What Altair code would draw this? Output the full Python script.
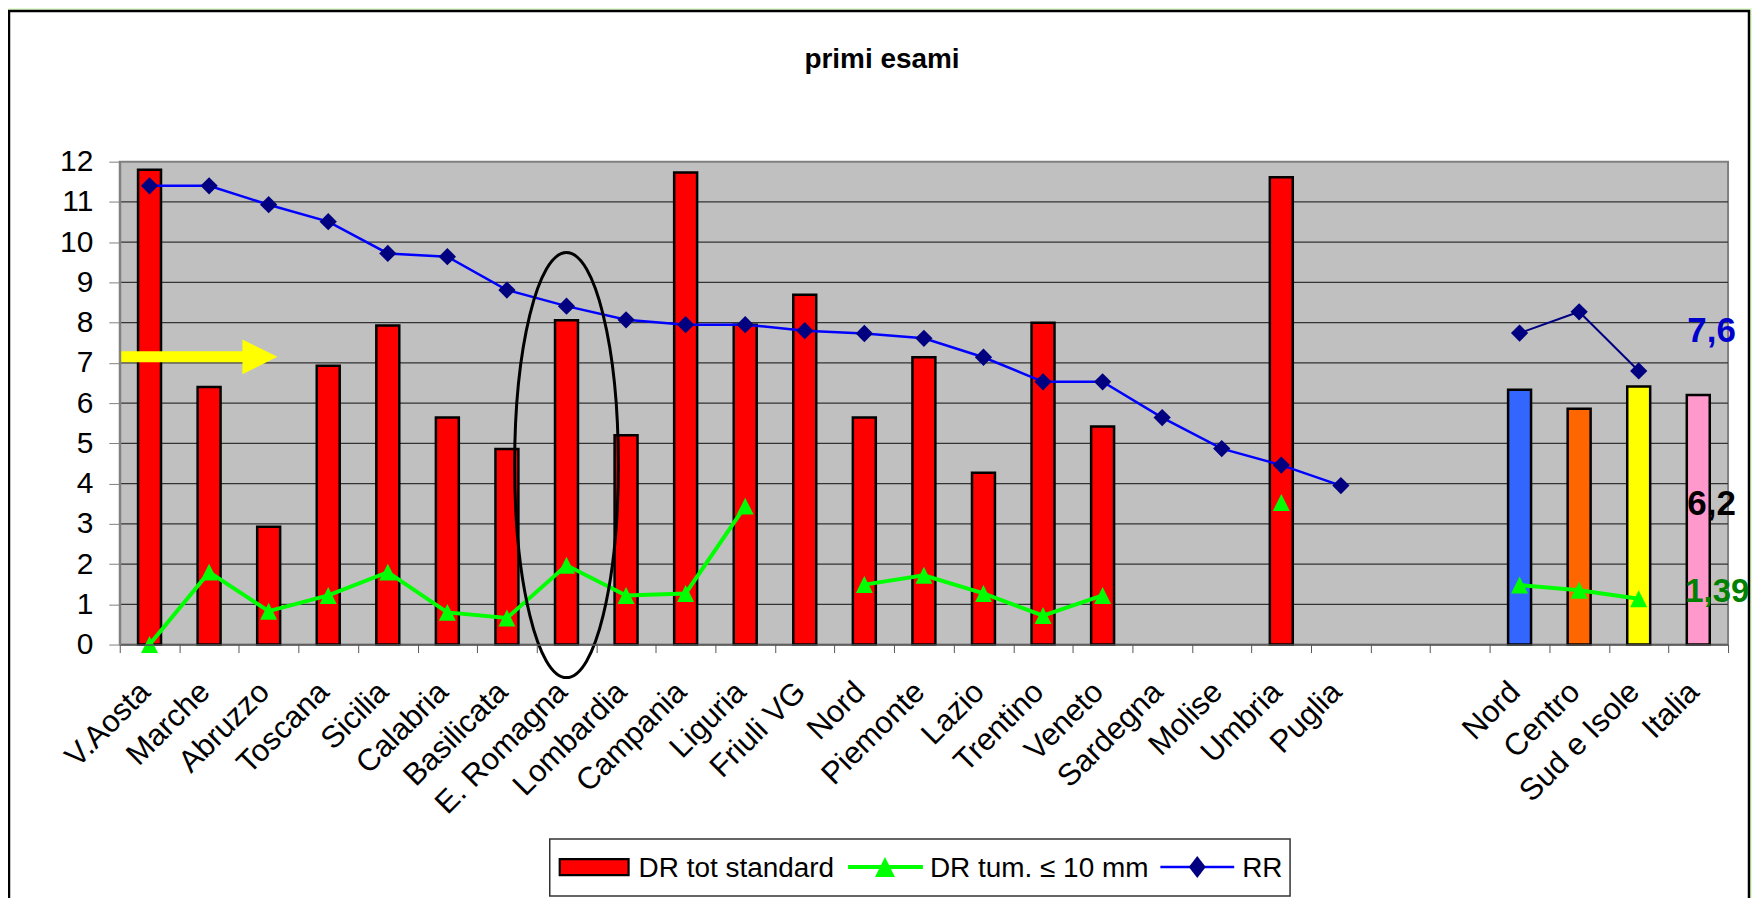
import altair as alt
import pandas as pd

# ---------------- data ----------------
regions = ["V.Aosta", "Marche", "Abruzzo", "Toscana", "Sicilia", "Calabria", "Basilicata",
           "E. Romagna", "Lombardia", "Campania", "Liguria", "Friuli VG", "Nord", "Piemonte",
           "Lazio", "Trentino", "Veneto", "Sardegna", "Molise", "Umbria", "Puglia"]
dr_tot = [11.8, 6.4, 2.93, 6.93, 7.93, 5.64, 4.86, 8.06, 5.2, 11.73, 7.95, 8.69, 5.64, 7.14,
          4.27, 8.0, 5.42, None, None, 11.61, None]
dr_tum = [0.0, 1.8, 0.83, 1.22, 1.8, 0.8, 0.66, 1.97, 1.22, 1.27, 3.44, None, 1.49, 1.72,
          1.27, 0.72, 1.22, None, None, 3.53, None]
rr = [11.4, 11.4, 10.93, 10.51, 9.72, 9.64, 8.81, 8.41, 8.07, 7.95, 7.95, 7.8, 7.73, 7.61,
      7.14, 6.53, 6.53, 5.64, 4.87, 4.46, 3.95]

gap = [" ", "  "]
macro = ["Nord ", "Centro", "Sud e Isole", "Italia"]
macro_dr_tot = [6.33, 5.86, 6.41, 6.2]
macro_dr_tum = [1.48, 1.35, 1.14, None]
macro_rr = [7.74, 8.27, 6.8, None]
macro_colors = ["#3366ff", "#ff6600", "#ffff00", "#ff99cc"]
region_color = "#ff0000"

y_ticks = list(range(0, 13))
legend_labels = ["DR tot standard", "DR tum. \u2264 10 mm", "RR"]
italia_labels = ["7,6", "6,2", "1,39"]
title_text = "primi esami"

slots = regions + gap + macro

# ---------------- helpers ----------------
W, H = 1612, 484
FONT = "Liberation Sans"
ONE = alt.Data(values=[{"k": 1}])

def runs(cats, vals):
    rows, seg, open_ = [], 0, False
    for c, v in zip(cats, vals):
        if v is None:
            if open_:
                seg += 1
            open_ = False
            continue
        rows.append({"cat": c, "v": v, "seg": seg})
        open_ = True
    return pd.DataFrame(rows)

bars_df = pd.DataFrame(
    [{"cat": c, "v": v, "col": region_color} for c, v in zip(regions, dr_tot) if v is not None]
    + [{"cat": c, "v": v, "col": k} for c, v, k in zip(macro, macro_dr_tot, macro_colors)]
)
tum_df = runs(slots, dr_tum + [None] * len(gap) + macro_dr_tum)
rr_left_df = runs(regions, rr)
rr_right_df = runs(macro, macro_rr)
grid_df = pd.DataFrame({"v": y_ticks[1:-1]})

x_axis = alt.Axis(title=None, labelAngle=-45, labelAlign="right", labelBaseline="top",
                  labelFont=FONT, labelFontSize=31, labelColor="black", labelOffset=-15,
                  labelPadding=24, tickBand="extent", tickSize=8, tickColor="#555555",
                  domainColor="#555555", domainWidth=1.5, grid=False, zindex=1,
                  labelExpr="trim(datum.label)", labelOverlap=False, labelLimit=400)
y_axis = alt.Axis(title=None, values=y_ticks, labelFont=FONT, labelFontSize=30,
                  labelColor="black", tickSize=11, tickColor="#808080", domainColor="#808080",
                  domainWidth=2, labelPadding=16, grid=False, zindex=1)

xs = alt.Scale(domain=slots, paddingInner=0, paddingOuter=0)
ys = alt.Scale(domain=[0, 12], nice=False, zero=True)
X = alt.X("cat:N", scale=xs, axis=x_axis)
Y = alt.Y("v:Q", scale=ys, axis=y_axis)

DIAMOND = "M0,-1L1,0L0,1L-1,0Z"
DIAMOND_TALL = "M0,-1L0.77,0L0,1L-0.77,0Z"
TRIANGLE = "M0,-1L1,1L-1,1Z"
ARROW_HEAD = "M-1,-1L1,0L-1,1Z"
ELLIPSE = ("M0,-1C0.1348,-1 0.244,-0.5523 0.244,0C0.244,0.5523 0.1348,1 0,1"
           "C-0.1348,1 -0.244,0.5523 -0.244,0C-0.244,-0.5523 -0.1348,-1 0,-1Z")

# ---------------- layers ----------------
frame = alt.Chart(ONE).mark_rect(fill="white", stroke="black", strokeWidth=2.5).encode(
    x=alt.value(-111), x2=alt.value(1633), y=alt.value(-151), y2=alt.value(800))
plot_bg = alt.Chart(ONE).mark_rect(fill="#c0c0c0", stroke="#808080", strokeWidth=2).encode(
    x=alt.value(0), x2=alt.value(W), y=alt.value(0), y2=alt.value(H))
grid = alt.Chart(grid_df).mark_rule(color="#333333", strokeWidth=1.3).encode(y=Y)

bars = alt.Chart(bars_df).mark_bar(size=23, stroke="black", strokeWidth=2.5).encode(
    x=X, y=Y, fill=alt.Fill("col:N", scale=None))

tum_line = alt.Chart(tum_df).mark_line(color="#00ff00", strokeWidth=4).encode(
    x=X, y=Y, detail="seg:N")
rr_left_line = alt.Chart(rr_left_df).mark_line(color="#0000ff", strokeWidth=2.5).encode(
    x=X, y=Y, detail="seg:N")
rr_right_line = alt.Chart(rr_right_df).mark_line(color="#000080", strokeWidth=2).encode(
    x=X, y=Y, detail="seg:N")

tum_pts = alt.Chart(tum_df).mark_point(shape=TRIANGLE, size=289, filled=True,
                                       color="#00ff00", opacity=1).encode(x=X, y=Y)
rr_pts = alt.Chart(pd.concat([rr_left_df, rr_right_df])).mark_point(
    shape=DIAMOND, size=300, filled=True, color="#000080", opacity=1).encode(x=X, y=Y)

arrow_shaft = alt.Chart(ONE).mark_rule(color="#ffff00", strokeWidth=11).encode(
    x=alt.value(0), x2=alt.value(125), y=alt.datum(7.15, scale=ys))
arrow_head = alt.Chart(ONE).mark_point(shape=ARROW_HEAD, size=1225, filled=True,
                                       color="#ffff00", opacity=1).encode(
    x=alt.value(140.5), y=alt.datum(7.15, scale=ys))

ellipse = alt.Chart(ONE).mark_point(shape=ELLIPSE, size=181476, filled=False, color="black",
                                    strokeWidth=3, opacity=1).encode(
    x=alt.datum("E. Romagna", scale=xs), y=alt.datum(4.46, scale=ys))

def annot(text, yv, color, size=35, dx=-11):
    return alt.Chart(ONE).mark_text(text=text, font=FONT, fontSize=size, fontWeight="bold",
                                    color=color, align="left", baseline="alphabetic",
                                    dx=dx).encode(
        x=alt.datum("Italia", scale=xs), y=alt.datum(yv, scale=ys))

ann_rr = annot(italia_labels[0], 7.53, "#0000cc")
ann_tot = annot(italia_labels[1], 3.22, "black")
ann_tum = annot(italia_labels[2], 1.07, "#008000", size=33, dx=-13)

title = alt.Chart(ONE).mark_text(text=title_text, font=FONT, fontSize=28, fontWeight="bold",
                                 color="black", align="center", baseline="alphabetic").encode(
    x=alt.value(764), y=alt.value(-94))

# legend (decoration)
LY = 707
leg_box = alt.Chart(ONE).mark_rect(fill="white", stroke="#333333", strokeWidth=1.5).encode(
    x=alt.value(431), x2=alt.value(1173), y=alt.value(679), y2=alt.value(736))
leg_swatch = alt.Chart(ONE).mark_rect(fill=region_color, stroke="black", strokeWidth=2.2).encode(
    x=alt.value(441), x2=alt.value(510), y=alt.value(699), y2=alt.value(715))
leg_green = alt.Chart(ONE).mark_rule(color="#00ff00", strokeWidth=4).encode(
    x=alt.value(730), x2=alt.value(805), y=alt.value(LY))
leg_tri = alt.Chart(ONE).mark_point(shape=TRIANGLE, size=400, filled=True, color="#00ff00",
                                    opacity=1).encode(x=alt.value(767), y=alt.value(LY))
leg_blue = alt.Chart(ONE).mark_rule(color="#0000ff", strokeWidth=2.5).encode(
    x=alt.value(1043), x2=alt.value(1117), y=alt.value(LY))
leg_dia = alt.Chart(ONE).mark_point(shape=DIAMOND_TALL, size=484, filled=True, color="#000080",
                                    opacity=1).encode(x=alt.value(1080), y=alt.value(LY))

def leg_text(t, xpos):
    return alt.Chart(ONE).mark_text(text=t, font=FONT, fontSize=28, color="black",
                                    align="left", baseline="alphabetic").encode(
        x=alt.value(xpos), y=alt.value(717))

leg_t1 = leg_text(legend_labels[0], 520)
leg_t2 = leg_text(legend_labels[1], 812)
leg_t3 = leg_text(legend_labels[2], 1125)

chart = alt.layer(
    frame, plot_bg, grid, bars, tum_line, rr_left_line, rr_right_line, tum_pts, rr_pts,
    arrow_shaft, arrow_head, ellipse, ann_rr, ann_tot, ann_tum, title,
    leg_box, leg_swatch, leg_green, leg_tri, leg_blue, leg_dia, leg_t1, leg_t2, leg_t3,
).properties(
    width=W, height=H,
    padding={"left": 112, "top": 153, "right": 24, "bottom": 253},
    autosize=alt.AutoSizeParams(type="none"),
    background="#e3fcd0",
).configure_view(stroke=None)

chart.save("out.html", embed_options={"renderer": "svg", "actions": False})
